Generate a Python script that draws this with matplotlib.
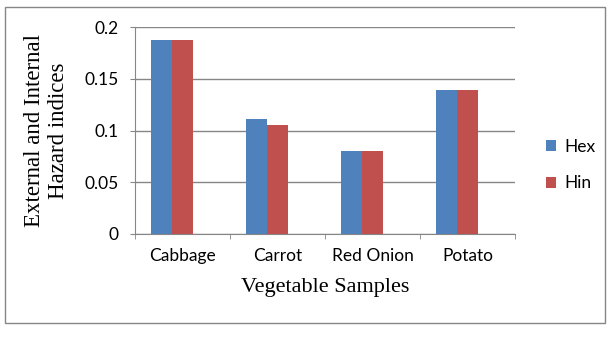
import numpy as np
import matplotlib.pyplot as plt
from matplotlib.patches import Rectangle

# data
samples = ['Cabbage', 'Carrot', 'Red Onion', 'Potato']
hex_vals = [0.187, 0.111, 0.080, 0.139]
hin_vals = [0.187, 0.105, 0.080, 0.139]
yticks = [0, 0.05, 0.1, 0.15, 0.2]
ytick_labels = ['0', '0.05', '0.1', '0.15', '0.2']

blue = '#4F81BD'
red = '#C0504D'
grey = '#868686'

fig = plt.figure(figsize=(6.16, 3.37), dpi=100)
ax = fig.add_axes([135 / 616, 1 - 234 / 337, 380 / 616, 207 / 337])

x = np.arange(len(samples))
w = 0.22
ax.bar(x - w, hex_vals, w, color=blue, label='Hex', zorder=3)
ax.bar(x, hin_vals, w, color=red, label='Hin', zorder=3)

ax.set_xlim(-0.5, len(samples) - 0.5)
ax.set_ylim(0, 0.2)
ax.set_yticks(yticks)
ax.set_yticklabels(ytick_labels, fontfamily='Lato', fontsize=12.5)
ax.set_xticks(x)
ax.set_xticklabels(samples, fontfamily='Lato', fontsize=12.5)
ax.set_xticks(np.arange(len(samples) + 1) - 0.5, minor=True)
ax.tick_params(axis='x', which='major', length=0, pad=10)
ax.tick_params(axis='x', which='minor', length=3.6, color=grey)
ax.tick_params(axis='y', length=3.6, color=grey, pad=8)

ax.yaxis.grid(True, color=grey, linewidth=1, zorder=0)
for s in ['top', 'right']:
    ax.spines[s].set_visible(False)
for s in ['left', 'bottom']:
    ax.spines[s].set_color(grey)

ax.set_ylabel('External and Internal\nHazard indices', fontfamily='Liberation Serif',
              fontsize=16.5, linespacing=1.2, labelpad=11)
ax.set_xlabel('Vegetable Samples', fontfamily='Liberation Serif', fontsize=16, labelpad=10)

leg = fig.legend(loc='center left', bbox_to_anchor=(530 / 616, 1 - 165 / 337),
                 frameon=False, prop={'family': 'Lato', 'size': 12.5},
                 handlelength=0.6, handleheight=0.6, handletextpad=0.5,
                 labelspacing=1.2)

# outer chart border
fig.patches.append(Rectangle((5 / 616, 1 - 323 / 337), 600 / 616, 316 / 337,
                             transform=fig.transFigure, fill=False,
                             edgecolor=grey, linewidth=1))

fig.savefig('out.png', dpi=100)
